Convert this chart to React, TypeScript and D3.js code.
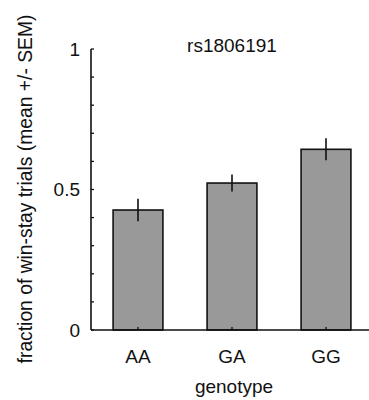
import React from "react";
import * as d3 from "d3";

const categories = ["AA", "GA", "GG"];
const means = [0.427, 0.523, 0.643];
const sems = [0.04, 0.03, 0.039];
const yTickLabels = [0, 0.5, 1];
const yMinorTicks = [0, 0.1, 0.2, 0.3, 0.4, 0.5, 0.6, 0.7, 0.8, 0.9, 1];
const title = "rs1806191";
const xLabel = "genotype";
const yLabel = "fraction of win-stay trials (mean +/- SEM)";

const W = 369;
const H = 400;
const FONT = "'Liberation Sans', Arial, sans-serif";

export default function App() {
  const x = d3.scaleLinear().domain([0.5, 3.5]).range([91, 373]);
  const y = d3.scaleLinear().domain([0, 1]).range([330, 49]);
  const barW = x(1.265) - x(1);
  const tickLen = 3;

  return (
    <svg
      width={W}
      height={H}
      style={{ position: "absolute", left: 0, top: 0, background: "#fff" }}
    >
      {/* bars */}
      {categories.map((c, i) => (
        <rect
          key={c}
          x={x(i + 1) - barW}
          y={y(means[i])}
          width={barW * 2}
          height={y(0) - y(means[i])}
          fill="#999999"
          stroke="#111"
          strokeWidth={1.6}
        />
      ))}
      {/* error bars */}
      {categories.map((c, i) => (
        <line
          key={"e" + c}
          x1={x(i + 1)}
          x2={x(i + 1)}
          y1={y(means[i] + sems[i])}
          y2={y(means[i] - sems[i])}
          stroke="#111"
          strokeWidth={1.6}
        />
      ))}
      {/* x ticks */}
      {categories.map((c, i) => (
        <line
          key={"xt" + c}
          x1={x(i + 1)}
          x2={x(i + 1)}
          y1={y(0)}
          y2={y(0) - tickLen}
          stroke="#111"
          strokeWidth={1.3}
        />
      ))}
      {/* axes */}
      <line x1={x(0.5)} x2={W} y1={y(0)} y2={y(0)} stroke="#111" strokeWidth={1.6} />
      <line x1={x(0.5)} x2={x(0.5)} y1={y(1)} y2={y(0)} stroke="#111" strokeWidth={1.6} />
      {yMinorTicks.map((t) => (
        <line
          key={"yt" + t}
          x1={x(0.5)}
          x2={x(0.5) + tickLen}
          y1={y(t)}
          y2={y(t)}
          stroke="#111"
          strokeWidth={1.3}
        />
      ))}
      {yTickLabels.map((t) => (
        <text
          key={"yl" + t}
          x={80}
          y={y(t)}
          dy="0.36em"
          textAnchor="end"
          fontFamily={FONT}
          fontSize={19}
          fill="#111"
        >
          {String(t)}
        </text>
      ))}
      {categories.map((c, i) => (
        <text
          key={"xl" + c}
          x={x(i + 1)}
          y={363}
          textAnchor="middle"
          fontFamily={FONT}
          fontSize={19}
          fill="#111"
        >
          {c}
        </text>
      ))}
      <text x={232} y={52} textAnchor="middle" fontFamily={FONT} fontSize={19} fill="#111">
        {title}
      </text>
      <text x={234} y={393} textAnchor="middle" fontFamily={FONT} fontSize={19} fill="#111">
        {xLabel}
      </text>
      <text
        transform={`translate(32,189) rotate(-90)`}
        textAnchor="middle"
        fontFamily={FONT}
        fontSize={19.3}
        fill="#111"
      >
        {yLabel}
      </text>
    </svg>
  );
}
